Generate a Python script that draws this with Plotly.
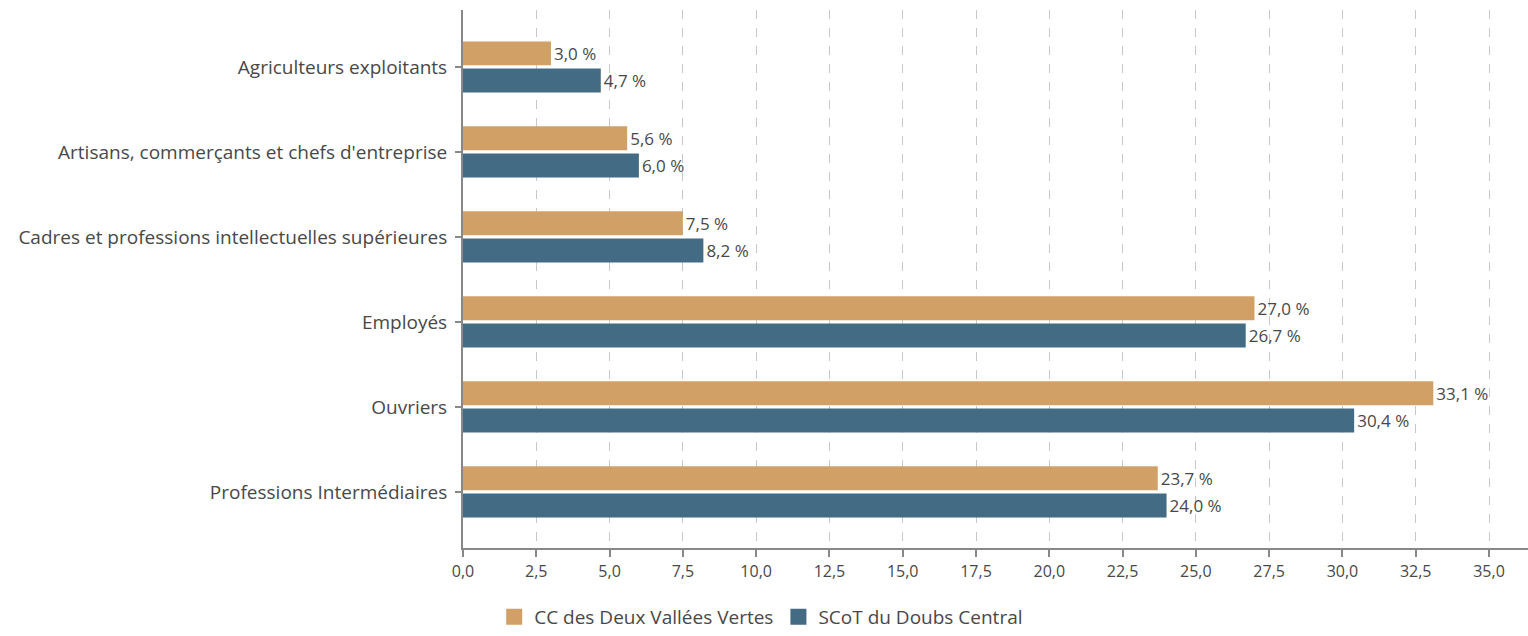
import plotly.graph_objects as go

categories = [
    "Agriculteurs exploitants",
    "Artisans, commerçants et chefs d'entreprise",
    "Cadres et professions intellectuelles supérieures",
    "Employés",
    "Ouvriers",
    "Professions Intermédiaires",
]
cc_values = [3.0, 5.6, 7.5, 27.0, 33.1, 23.7]
scot_values = [4.7, 6.0, 8.2, 26.7, 30.4, 24.0]
tick_vals = [0, 2.5, 5, 7.5, 10, 12.5, 15, 17.5, 20, 22.5, 25, 27.5, 30, 32.5, 35]
series_names = ["CC des Deux Vallées Vertes", "SCoT du Doubs Central"]
series_colors = ["#D0A067", "#436B83"]

font_family = "'Open Sans', Lato, sans-serif"
txt_color = "#484848"

fig = go.Figure()
for name, vals, col in zip(series_names, [cc_values, scot_values], series_colors):
    fig.add_trace(go.Bar(
        y=categories, x=vals, orientation="h", name=name, showlegend=False,
        marker_color=col, marker_line_width=0,
        texttemplate="%{x:.1f} %", textposition="outside",
        textfont=dict(size=17, color=txt_color, family=font_family), cliponaxis=False,
    ))
for name, col in zip(series_names, series_colors):
    fig.add_trace(go.Scatter(
        x=[None], y=[None], mode="markers", name=name,
        marker=dict(symbol="square", size=24, color=col),
    ))

fig.update_layout(
    width=1528, height=636,
    margin=dict(l=463, r=0, t=10, b=88),
    barmode="group", bargap=0.36, bargroupgap=0.12,
    separators=", ",
    plot_bgcolor="white", paper_bgcolor="white",
    font=dict(family=font_family, color=txt_color, size=16),
    legend=dict(orientation="h", x=0.28, xanchor="center", y=-0.128, yanchor="middle",
                font=dict(size=19, color=txt_color), traceorder="normal",
                itemwidth=30),
    xaxis=dict(range=[0, 36.33], tickvals=tick_vals, tickformat=".1f",
               showgrid=True, gridcolor="#c8c8c8", griddash="dash", gridwidth=1,
               showline=True, linecolor="#888888", linewidth=2,
               ticks="outside", ticklen=7, tickcolor="#888888", tickwidth=2,
               zeroline=False, tickfont=dict(size=16), ticklabelstandoff=1,
               automargin=False),
    yaxis=dict(categoryorder="array", categoryarray=categories,
               range=[5.66, -0.67], showline=True, linecolor="#888888", linewidth=2,
               ticks="outside", ticklen=6, tickcolor="#888888", tickwidth=2,
               showgrid=False, tickfont=dict(size=19), ticklabelstandoff=4,
               automargin=False),
)
fig.write_html("out.html", config={"displayModeBar": False},
               post_script="document.body.style.margin='0';document.body.style.overflow='hidden';")
